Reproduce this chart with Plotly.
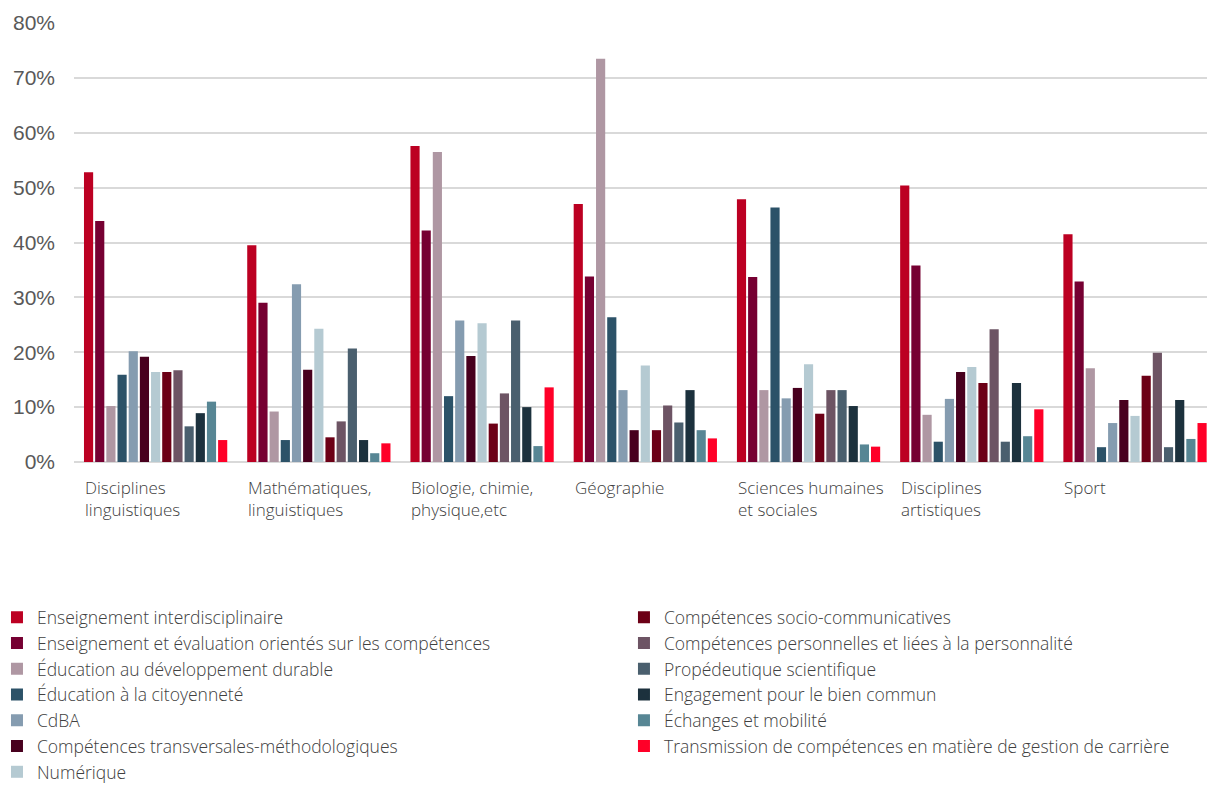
import plotly.graph_objects as go

# ── Data ──────────────────────────────────────────────────────────────────────
CATEGORIES = [
    "Disciplines<br>linguistiques",
    "Mathématiques,<br>linguistiques",
    "Biologie, chimie,<br>physique,etc",
    "Géographie",
    "Sciences humaines<br>et sociales",
    "Disciplines<br>artistiques",
    "Sport",
]

SERIES = [
    "Enseignement interdisciplinaire",
    "Enseignement et évaluation orientés sur les compétences",
    "Éducation au développement durable",
    "Éducation à la citoyenneté",
    "CdBA",
    "Compétences transversales-méthodologiques",
    "Numérique",
    "Compétences socio-communicatives",
    "Compétences personnelles et liées à la personnalité",
    "Propédeutique scientifique",
    "Engagement pour le bien commun",
    "Échanges et mobilité",
    "Transmission de compétences en matière de gestion de carrière",
]

COLORS = [
    "#BC0022", "#760032", "#AF97A3", "#2C5268", "#859CB0", "#48001E", "#B5CAD2",
    "#6C0016", "#6D5464", "#4A5F6E", "#1C313D", "#578694", "#FF0028",
]

# one list per series, values in % for each category
VALUES = [
    [52.8, 39.5, 57.6, 47.0, 47.9, 50.4, 41.5],
    [43.9, 29.0, 42.2, 33.8, 33.7, 35.8, 32.9],
    [10.2, 9.2, 56.5, 73.5, 13.1, 8.6, 17.1],
    [15.9, 4.0, 12.0, 26.4, 46.4, 3.7, 2.7],
    [20.2, 32.4, 25.8, 13.1, 11.6, 11.5, 7.1],
    [19.2, 16.8, 19.3, 5.8, 13.5, 16.4, 11.3],
    [16.4, 24.3, 25.3, 17.6, 17.8, 17.3, 8.4],
    [16.4, 4.5, 7.0, 5.8, 8.8, 14.4, 15.7],
    [16.7, 7.4, 12.5, 10.3, 13.1, 24.2, 19.9],
    [6.5, 20.7, 25.8, 7.2, 13.1, 3.7, 2.7],
    [8.9, 4.0, 10.0, 13.1, 10.2, 14.4, 11.3],
    [11.0, 1.6, 2.9, 5.8, 3.2, 4.7, 4.2],
    [4.0, 3.4, 13.6, 4.3, 2.8, 9.6, 7.1],
]

Y_TICKS = [0, 10, 20, 30, 40, 50, 60, 70, 80]
Y_TICK_LABELS = [f"{v}%" for v in Y_TICKS]

FONT = "Open Sans"
TEXT_COLOR = "#404040"

# page body has an 8px margin, so the figure is sized to fit the window
W, H = 1207, 779

fig = go.Figure()
for i, (name, vals, color) in enumerate(zip(SERIES, VALUES, COLORS)):
    fig.add_trace(go.Bar(
        name=name,
        x=CATEGORIES,
        y=vals,
        marker=dict(color=color, line=dict(width=0)),
        legend="legend" if i < 7 else "legend2",
    ))

# left-aligned category labels under each group
for i, cat in enumerate(CATEGORIES):
    fig.add_annotation(
        x=i - 0.445, y=-0.028, xref="x", yref="paper",
        text=cat, showarrow=False, xanchor="left", yanchor="top", align="left",
        font=dict(family=FONT, size=17, color=TEXT_COLOR, weight=300),
    )

legend_common = dict(
    orientation="v",
    font=dict(family=FONT, size=17.5, color=TEXT_COLOR, weight=300),
    bgcolor="rgba(0,0,0,0)",
    xref="paper", yref="paper",
    xanchor="left", yanchor="top",
    traceorder="normal",
)

fig.update_layout(
    width=W, height=H,
    paper_bgcolor="white", plot_bgcolor="white",
    margin=dict(l=66, r=0, t=15, b=325, autoexpand=False),
    barmode="group",
    bargap=0.11,
    bargroupgap=0.18,
    xaxis=dict(
        range=[-0.5, 6.49],
        showticklabels=False, showgrid=False, showline=False, ticks="",
    ),
    yaxis=dict(
        range=[0, 80],
        tickvals=Y_TICKS, ticktext=Y_TICK_LABELS,
        tickfont=dict(family="Liberation Sans", size=21, color="#595959"),
        showgrid=True, gridcolor="#D9D9D9", gridwidth=1.5,
        zeroline=True, zerolinecolor="#D9D9D9", zerolinewidth=2,
        showline=False, ticks="", ticklabelstandoff=18,
    ),
    showlegend=True,
    legend=dict(x=-0.0675, y=-0.313, **legend_common),
    legend2=dict(x=0.482, y=-0.313, **legend_common),
)

fig.write_html("out.html")
